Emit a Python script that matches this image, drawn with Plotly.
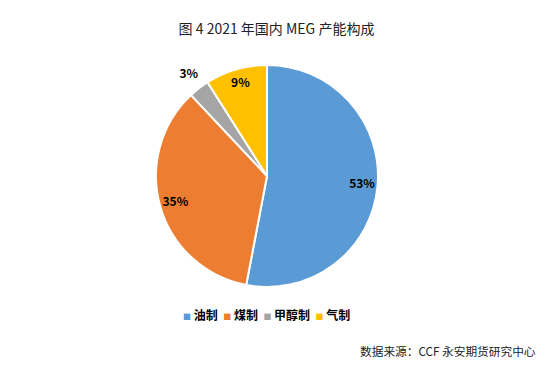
import plotly.graph_objects as go

categories = ["油制", "煤制", "甲醇制", "气制"]
shares = [53, 35, 3, 9]
colors = ["#5B9BD5", "#ED7D31", "#A5A5A5", "#FFC000"]
label_inside = [True, True, False, True]

# The page has an 8px body margin, so the figure is sized to fit the window.
W, H = 537, 358
cx, cy, r = 259, 168, 111
RMAX = 1.25  # radial axis extent; slices fill r = 0..1
R = r * RMAX
dom = dict(x=[(cx - R) / W, (cx + R) / W], y=[(H - cy - R) / H, (H - cy + R) / H])

total = sum(shares)
mids, widths, cum = [], [], 0
for v in shares:
    mids.append((cum + v / 2) / total * 360)
    widths.append(v / total * 360)
    cum += v

fig = go.Figure()
# pie slices drawn as full-radius polar bars
fig.add_trace(go.Barpolar(
    r=[1] * len(shares), theta=mids, width=widths,
    marker=dict(color=colors, line=dict(color="white", width=2)),
    customdata=categories,
    hovertemplate="%{customdata}<extra></extra>",
    showlegend=False,
))

radii = [0.86 if inside else 1.15 for inside in label_inside]
fig.add_trace(go.Scatterpolar(
    r=radii, theta=mids, mode="text",
    text=[f"{v}%" for v in shares],
    textfont=dict(family="Noto Sans CJK SC", size=12, color="black", weight="bold"),
    cliponaxis=False,
    hoverinfo="skip", showlegend=False,
))

legend_text = "  ".join(
    f"<span style='color:{c};font-size:8px'>■</span> {name}" for name, c in zip(categories, colors)
)

fig.update_layout(
    width=W, height=H,
    margin=dict(l=0, r=0, t=0, b=0),
    paper_bgcolor="white",
    plot_bgcolor="white",
    font=dict(family="Noto Sans CJK SC", color="black"),
    polar=dict(
        domain=dom,
        bgcolor="rgba(0,0,0,0)",
        bargap=0,
        radialaxis=dict(range=[0, RMAX], visible=False),
        angularaxis=dict(rotation=90, direction="clockwise", visible=False),
    ),
    title=dict(text="图 4 2021 年国内 MEG 产能构成", x=0.5, xanchor="center",
               y=1 - 21 / H, yanchor="middle", font=dict(size=14, color="#222222")),
    showlegend=False,
    annotations=[
        dict(text=legend_text, x=258 / W, xanchor="center", y=1 - 306 / H, yanchor="middle",
             xref="paper", yref="paper", showarrow=False,
             font=dict(size=12, color="black", weight="bold")),
        dict(text="数据来源：CCF 永安期货研究中心", x=530 / W, xanchor="right",
             y=1 - 342 / H, yanchor="middle", xref="paper", yref="paper",
             showarrow=False, font=dict(size=11.7, color="#222222")),
    ],
)

fig.write_html("out.html")
